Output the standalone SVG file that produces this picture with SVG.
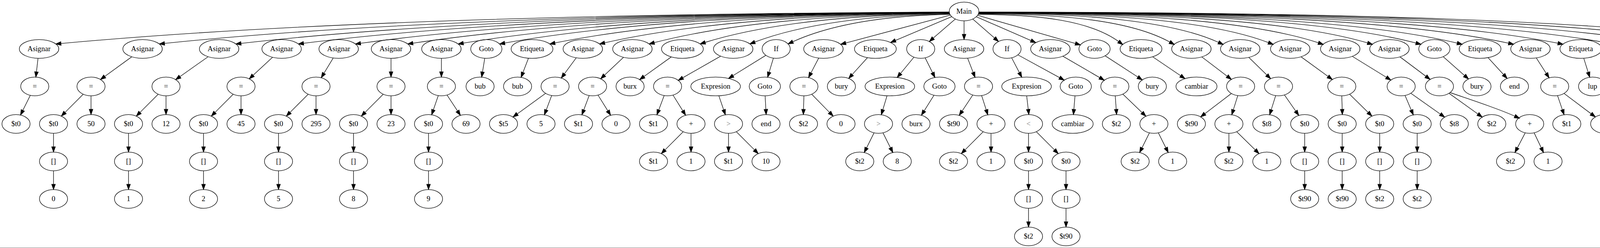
<svg xmlns="http://www.w3.org/2000/svg" width="4739" height="635" viewBox="0 0 4739 635">
<style>
ellipse{fill:none;stroke:#000;stroke-width:1.33}
text{font-family:"Liberation Serif","Times New Roman",serif;font-size:18.67px;text-anchor:middle;fill:#000}
text.op{fill:#808080}
#edges path{fill:none;stroke:#000;stroke-width:1.33;marker-end:url(#ah)}
</style>
<defs>
<marker id="ah" viewBox="0 0 14 10" markerWidth="14" markerHeight="10" refX="0" refY="5" orient="auto" markerUnits="userSpaceOnUse" overflow="visible"><path d="M0,0.33 L13.33,5 L0,9.67 Z" fill="#000" stroke="#000" stroke-width="1.33"/></marker>
</defs>
<rect width="4739" height="635" fill="#fff"/>
<path d="M0,634.5 H4737.5 V0" fill="none" stroke="#808080" stroke-width="1"/>
<g id="edges">
<path d="M2430.1,30.8 C1520.5,34.8 724.6,59.0 156.1,111.4"/>
<path d="M2430.1,31.0 C1626.5,35.0 923.3,59.1 421.1,111.2"/>
<path d="M2430.1,31.2 C1704.9,35.2 1070.3,59.2 617.0,111.1"/>
<path d="M2430.1,31.4 C1768.9,35.4 1190.3,59.2 777.0,110.9"/>
<path d="M2430.2,31.6 C1827.3,35.6 1299.8,59.3 923.0,110.8"/>
<path d="M2430.2,31.8 C1880.9,35.7 1400.3,59.4 1057.0,110.6"/>
<path d="M2430.2,32.0 C1932.5,35.9 1497.0,59.4 1186.0,110.4"/>
<path d="M2430.3,32.3 C1975.0,36.2 1576.6,59.6 1292.0,110.2"/>
<path d="M2430.4,32.6 C2026.4,36.5 1673.0,59.7 1420.5,109.9"/>
<path d="M2430.5,33.0 C2077.4,36.8 1768.5,59.8 1547.8,109.6"/>
<path d="M2430.6,33.5 C2128.2,37.3 1863.7,60.0 1674.7,109.2"/>
<path d="M2430.8,34.2 C2180.5,37.9 1961.5,60.2 1805.1,108.5"/>
<path d="M2431.2,35.3 C2231.6,38.9 2056.9,60.6 1932.2,107.7"/>
<path d="M2431.8,36.5 C2270.9,40.0 2130.1,61.1 2029.5,106.9"/>
<path d="M2433.0,38.6 L2164.9,110.1"/>
<path d="M2436.4,42.7 L2292.2,103.6"/>
<path d="M2445.6,48.7 L2389.1,97.6"/>
<path d="M2468,53.3 L2468,88.0"/>
<path d="M2490.3,48.7 L2546.1,97.5"/>
<path d="M2499.3,42.9 L2639.5,103.8"/>
<path d="M2502.6,39.2 L2753.1,111.3"/>
<path d="M2504.0,36.9 C2665.9,36.9 2791.8,54.3 2863.8,106.4"/>
<path d="M2504.8,35.4 C2725.3,35.4 2896.8,53.5 2994.8,107.7"/>
<path d="M2505.2,34.3 C2781.6,34.3 2996.6,52.9 3119.5,108.5"/>
<path d="M2505.4,33.6 C2839.3,33.6 3098.9,52.5 3247.3,109.1"/>
<path d="M2505.5,33.0 C2896.9,33.0 3201.3,52.2 3375.2,109.6"/>
<path d="M2505.6,32.6 C2953.6,32.6 3302.0,51.9 3501.1,109.9"/>
<path d="M2505.7,32.3 C3009.4,32.3 3401.1,51.8 3625.0,110.2"/>
<path d="M2505.7,32.0 C3056.9,32.0 3485.5,51.6 3730.5,110.4"/>
<path d="M2505.8,31.8 C3116.1,31.8 3590.8,51.5 3862.0,110.6"/>
<path d="M2505.8,31.6 C3173.0,31.6 3691.9,51.4 3988.4,110.7"/>
<path d="M2505.9,31.4 C3232.7,31.4 3797.9,51.3 4120.9,110.9"/>
<path d="M2505.9,31.3 C3293.9,31.3 3906.7,51.2 4256.9,111.0"/>
<path d="M2505.9,31.1 C3355.6,31.1 4016.4,51.1 4394.0,111.1"/>
<path d="M2505.9,31.0 C3413.2,31.0 4119.0,51.1 4522.2,111.2"/>
<path d="M97.3,149.3 L93.3,184.1"/>
<path d="M77.6,244.1 L58.4,282.6"/>
<path d="M337.4,145.4 L268.1,195.8"/>
<path d="M213.0,241.3 L166.4,287.9"/>
<path d="M233,245.3 L233,280.0"/>
<path d="M137,341.3 L137,376.0"/>
<path d="M137,437.3 L137,472.0"/>
<path d="M532.8,145.2 L460.6,196.2"/>
<path d="M405.0,241.3 L358.4,287.9"/>
<path d="M425,245.3 L425,280.0"/>
<path d="M329,341.3 L329,376.0"/>
<path d="M329,437.3 L329,472.0"/>
<path d="M697.9,146.6 L647.9,192.8"/>
<path d="M597.0,241.3 L550.4,287.9"/>
<path d="M617,245.3 L617,280.0"/>
<path d="M521,341.3 L521,376.0"/>
<path d="M521,437.3 L521,472.0"/>
<path d="M853.1,148.4 L829.3,187.6"/>
<path d="M789.0,241.3 L742.4,287.9"/>
<path d="M809,245.3 L809,280.0"/>
<path d="M713,341.3 L713,376.0"/>
<path d="M713,437.3 L713,472.0"/>
<path d="M1001,149.3 L1001,184.0"/>
<path d="M981.0,241.3 L934.4,287.9"/>
<path d="M1001,245.3 L1001,280.0"/>
<path d="M905,341.3 L905,376.0"/>
<path d="M905,437.3 L905,472.0"/>
<path d="M1130,149.3 L1130,184.0"/>
<path d="M1122.0,244.7 L1109.4,281.3"/>
<path d="M1144.4,243.3 L1171.3,284.2"/>
<path d="M1097,341.3 L1097,376.0"/>
<path d="M1097,437.3 L1097,472.0"/>
<path d="M1241.0,149.2 L1235.2,184.3"/>
<path d="M1352.9,149.0 L1338.8,185.6"/>
<path d="M1475.3,147.9 L1444.8,189.1"/>
<path d="M1396.7,239.0 L1324.1,291.8"/>
<path d="M1412.3,244.6 L1398.4,281.5"/>
<path d="M1596.2,146.7 L1547.5,192.6"/>
<path d="M1508.3,244.6 L1494.4,281.5"/>
<path d="M1530.9,243.5 L1556.1,283.8"/>
<path d="M1718.6,145.6 L1648.4,196.0"/>
<path d="M1844.7,143.8 L1747.9,199.1"/>
<path d="M1700.3,244.6 L1686.4,281.5"/>
<path d="M1722.9,243.5 L1748.1,283.8"/>
<path d="M1749.0,337.3 L1702.4,383.9"/>
<path d="M1769,341.3 L1769,376.0"/>
<path d="M1960.6,141.6 L1876.4,193.8"/>
<path d="M1979.9,148.8 L1969.0,184.9"/>
<path d="M1840.2,245.1 L1852.6,281.3"/>
<path d="M1865,341.3 L1865,376.0"/>
<path d="M1885.0,337.3 L1931.6,383.9"/>
<path d="M1958.7,245.3 L1960.6,280.0"/>
<path d="M2095.9,148.6 L2076.0,186.8"/>
<path d="M2058,245.3 L2057,280.0"/>
<path d="M2078.0,241.3 L2123.6,287.9"/>
<path d="M2220.9,147.5 L2181.6,190.9"/>
<path d="M2339.7,146.3 L2305.3,188.1"/>
<path d="M2368.4,148.1 L2387.5,186.4"/>
<path d="M2270.8,245.2 L2260.0,281.0"/>
<path d="M2237.6,340.1 L2218.4,378.6"/>
<path d="M2260.4,340.1 L2279.7,378.6"/>
<path d="M2391.0,243.8 L2365.9,283.8"/>
<path d="M2477.1,148.9 L2491.3,185.6"/>
<path d="M2490.4,243.2 L2463.0,284.3"/>
<path d="M2513.0,244.7 L2524.7,281.3"/>
<path d="M2517.0,337.3 L2470.4,383.9"/>
<path d="M2537,341.3 L2537,376.0"/>
<path d="M2589.8,148.0 L2609.6,185.9"/>
<path d="M2605.9,140.5 L2712.7,198.8"/>
<path d="M2628.3,245.3 L2632.3,280.0"/>
<path d="M2633,341.3 L2633,376.0"/>
<path d="M2653.0,337.3 L2699.6,383.9"/>
<path d="M2633,437.3 L2633,472.0"/>
<path d="M2633,533.3 L2633,568.0"/>
<path d="M2729,437.3 L2729,472.0"/>
<path d="M2729,533.3 L2729,568.0"/>
<path d="M2752.0,245.3 L2749.1,280.1"/>
<path d="M2720.9,143.9 L2815.4,198.8"/>
<path d="M2855,245.3 L2857.5,280.0"/>
<path d="M2874.5,241.0 L2923.9,288.4"/>
<path d="M2942.6,340.1 L2923.4,378.6"/>
<path d="M2965.4,340.1 L2984.7,378.6"/>
<path d="M2829.2,142.9 L2913.0,197.3"/>
<path d="M2950.6,145.3 L3022.6,194.0"/>
<path d="M3076.7,145.7 L3141.7,195.2"/>
<path d="M3152.3,239.4 L3084.3,291.2"/>
<path d="M3168.7,244.8 L3157.3,281.1"/>
<path d="M3146,341.3 L3146,376.0"/>
<path d="M3166.0,337.3 L3213.6,383.9"/>
<path d="M3197.0,146.9 L3243.2,192.1"/>
<path d="M3265.7,244.8 L3254.3,281.1"/>
<path d="M3288.2,243.1 L3317.2,284.6"/>
<path d="M3340,341.3 L3340,376.0"/>
<path d="M3340,437.3 L3340,472.0"/>
<path d="M3330.6,145.4 L3399.9,195.8"/>
<path d="M3435,245.3 L3436,280.0"/>
<path d="M3455.0,241.3 L3502.6,287.9"/>
<path d="M3436,341.3 L3436,376.0"/>
<path d="M3436,437.3 L3436,472.0"/>
<path d="M3532,341.3 L3532,376.0"/>
<path d="M3532,437.3 L3532,472.0"/>
<path d="M3461.9,144.3 L3549.2,198.0"/>
<path d="M3596.9,244.4 L3612.9,282.0"/>
<path d="M3611.7,238.8 L3687.4,292.2"/>
<path d="M3628,341.3 L3628,376.0"/>
<path d="M3628,437.3 L3628,472.0"/>
<path d="M3584.0,145.6 L3650.4,195.4"/>
<path d="M3709.5,238.9 L3783.6,292.0"/>
<path d="M3712,237 C3770,257 3830,276 3878,297.5"/>
<path d="M3904.6,340.1 L3884.4,378.6"/>
<path d="M3927.4,340.1 L3945.7,378.6"/>
<path d="M3694.5,145.1 L3749.3,193.4"/>
<path d="M3809.4,147.5 L3849.2,191.0"/>
<path d="M3932.8,148.2 L3958.5,188.1"/>
<path d="M3987.3,244.8 L3999.7,281.1"/>
<path d="M4003.9,239.2 L4073.4,291.4"/>
<path d="M4054.4,149.1 L4065.7,185.1"/>
<path d="M4187.0,149.2 L4194.3,184.4"/>
<path d="M4202,245.3 L4203,280.0"/>
<path d="M4203,341.3 L4203,376.0"/>
<path d="M4318,149.3 L4318,184.0"/>
<path d="M4448.3,149.3 L4445.7,184.0"/>
<path d="M4425.2,242.2 L4387.5,286.3"/>
<path d="M4446.5,245.1 L4451.6,280.3"/>
<path d="M4437.0,337.3 L4392.4,383.9"/>
<path d="M4457,341.3 L4459,376.0"/>
<path d="M4566,149.3 L4566,184.0"/>
<path d="M4589.8,143.3 L4657.5,194.5"/>
<path d="M4566,245.3 L4566,280.0"/>
<path d="M4565.6,341.3 L4562.5,376.0"/>
<path d="M4585.4,337.5 L4629.4,383.5"/>
<path d="M4693,245.3 L4693,280.0"/>
</g>
<g id="n0"><ellipse cx="2468" cy="29.3" rx="38" ry="24"/><text x="2468" y="35.3">Main</text></g>
<g id="n1"><ellipse cx="100" cy="125.3" rx="50.5" ry="24"/><text x="100" y="131.3">Asignar</text></g>
<g id="n2"><ellipse cx="365" cy="125.3" rx="50.5" ry="24"/><text x="365" y="131.3">Asignar</text></g>
<g id="n3"><ellipse cx="561" cy="125.3" rx="50.5" ry="24"/><text x="561" y="131.3">Asignar</text></g>
<g id="n4"><ellipse cx="721" cy="125.3" rx="50.5" ry="24"/><text x="721" y="131.3">Asignar</text></g>
<g id="n5"><ellipse cx="867" cy="125.3" rx="50.5" ry="24"/><text x="867" y="131.3">Asignar</text></g>
<g id="n6"><ellipse cx="1001" cy="125.3" rx="50.5" ry="24"/><text x="1001" y="131.3">Asignar</text></g>
<g id="n7"><ellipse cx="1130" cy="125.3" rx="50.5" ry="24"/><text x="1130" y="131.3">Asignar</text></g>
<g id="n8"><ellipse cx="1245" cy="125.3" rx="40" ry="24"/><text x="1245" y="131.3">Goto</text></g>
<g id="n9"><ellipse cx="1362" cy="125.3" rx="53.5" ry="24"/><text x="1362" y="131.3">Etiqueta</text></g>
<g id="n10"><ellipse cx="1492" cy="125.3" rx="50.5" ry="24"/><text x="1492" y="131.3">Asignar</text></g>
<g id="n11"><ellipse cx="1619" cy="125.3" rx="50.5" ry="24"/><text x="1619" y="131.3">Asignar</text></g>
<g id="n12"><ellipse cx="1747" cy="125.3" rx="53.5" ry="24"/><text x="1747" y="131.3">Etiqueta</text></g>
<g id="n13"><ellipse cx="1877" cy="125.3" rx="50.5" ry="24"/><text x="1877" y="131.3">Asignar</text></g>
<g id="n14"><ellipse cx="1987" cy="125.3" rx="36" ry="24"/><text x="1987" y="131.3">If</text></g>
<g id="n15"><ellipse cx="2108" cy="125.3" rx="50.5" ry="24"/><text x="2108" y="131.3">Asignar</text></g>
<g id="n16"><ellipse cx="2241" cy="125.3" rx="53.5" ry="24"/><text x="2241" y="131.3">Etiqueta</text></g>
<g id="n17"><ellipse cx="2357" cy="125.3" rx="36" ry="24"/><text x="2357" y="131.3">If</text></g>
<g id="n18"><ellipse cx="2468" cy="125.3" rx="50.5" ry="24"/><text x="2468" y="131.3">Asignar</text></g>
<g id="n19"><ellipse cx="2578" cy="125.3" rx="36" ry="24"/><text x="2578" y="131.3">If</text></g>
<g id="n20"><ellipse cx="2689" cy="125.3" rx="50.5" ry="24"/><text x="2689" y="131.3">Asignar</text></g>
<g id="n21"><ellipse cx="2802" cy="125.3" rx="40" ry="24"/><text x="2802" y="131.3">Goto</text></g>
<g id="n22"><ellipse cx="2921" cy="125.3" rx="53.5" ry="24"/><text x="2921" y="131.3">Etiqueta</text></g>
<g id="n23"><ellipse cx="3050" cy="125.3" rx="50.5" ry="24"/><text x="3050" y="131.3">Asignar</text></g>
<g id="n24"><ellipse cx="3175" cy="125.3" rx="50.5" ry="24"/><text x="3175" y="131.3">Asignar</text></g>
<g id="n25"><ellipse cx="3303" cy="125.3" rx="50.5" ry="24"/><text x="3303" y="131.3">Asignar</text></g>
<g id="n26"><ellipse cx="3431" cy="125.3" rx="50.5" ry="24"/><text x="3431" y="131.3">Asignar</text></g>
<g id="n27"><ellipse cx="3557" cy="125.3" rx="50.5" ry="24"/><text x="3557" y="131.3">Asignar</text></g>
<g id="n28"><ellipse cx="3672" cy="125.3" rx="40" ry="24"/><text x="3672" y="131.3">Goto</text></g>
<g id="n29"><ellipse cx="3789" cy="125.3" rx="53.5" ry="24"/><text x="3789" y="131.3">Etiqueta</text></g>
<g id="n30"><ellipse cx="3918" cy="125.3" rx="50.5" ry="24"/><text x="3918" y="131.3">Asignar</text></g>
<g id="n31"><ellipse cx="4047" cy="125.3" rx="53.5" ry="24"/><text x="4047" y="131.3">Etiqueta</text></g>
<g id="n32"><ellipse cx="4182" cy="125.3" rx="56.5" ry="24"/><text x="4182" y="131.3">Imprimir</text></g>
<g id="n33"><ellipse cx="4318" cy="125.3" rx="56.5" ry="24"/><text x="4318" y="131.3">Imprimir</text></g>
<g id="n34"><ellipse cx="4450" cy="125.3" rx="50.5" ry="24"/><text x="4450" y="131.3">Asignar</text></g>
<g id="n35"><ellipse cx="4566" cy="125.3" rx="36" ry="24"/><text x="4566" y="131.3">If</text></g>
<g id="n36"><ellipse cx="89" cy="221.3" rx="36" ry="24"/><text x="89" y="227.3">=</text></g>
<g id="n37"><ellipse cx="233" cy="221.3" rx="36" ry="24"/><text x="233" y="227.3">=</text></g>
<g id="n38"><ellipse cx="425" cy="221.3" rx="36" ry="24"/><text x="425" y="227.3">=</text></g>
<g id="n39"><ellipse cx="617" cy="221.3" rx="36" ry="24"/><text x="617" y="227.3">=</text></g>
<g id="n40"><ellipse cx="809" cy="221.3" rx="36" ry="24"/><text x="809" y="227.3">=</text></g>
<g id="n41"><ellipse cx="1001" cy="221.3" rx="36" ry="24"/><text x="1001" y="227.3">=</text></g>
<g id="n42"><ellipse cx="1130" cy="221.3" rx="36" ry="24"/><text x="1130" y="227.3">=</text></g>
<g id="n43"><ellipse cx="1229" cy="221.3" rx="36" ry="24"/><text x="1229" y="227.3">bub</text></g>
<g id="n44"><ellipse cx="1325" cy="221.3" rx="36" ry="24"/><text x="1325" y="227.3">bub</text></g>
<g id="n45"><ellipse cx="1421" cy="221.3" rx="36" ry="24"/><text x="1421" y="227.3">=</text></g>
<g id="n46"><ellipse cx="1517" cy="221.3" rx="36" ry="24"/><text x="1517" y="227.3">=</text></g>
<g id="n47"><ellipse cx="1613" cy="221.3" rx="36" ry="24"/><text x="1613" y="227.3">burx</text></g>
<g id="n48"><ellipse cx="1709" cy="221.3" rx="36" ry="24"/><text x="1709" y="227.3">=</text></g>
<g id="n49"><ellipse cx="1832" cy="221.3" rx="63.5" ry="24"/><text x="1832" y="227.3">Expresion</text></g>
<g id="n50"><ellipse cx="1958" cy="221.3" rx="40" ry="24"/><text x="1958" y="227.3">Goto</text></g>
<g id="n51"><ellipse cx="2058" cy="221.3" rx="36" ry="24"/><text x="2058" y="227.3">=</text></g>
<g id="n52"><ellipse cx="2154" cy="221.3" rx="36" ry="24"/><text x="2154" y="227.3">bury</text></g>
<g id="n53"><ellipse cx="2278" cy="221.3" rx="63.5" ry="24"/><text x="2278" y="227.3">Expresion</text></g>
<g id="n54"><ellipse cx="2405" cy="221.3" rx="40" ry="24"/><text x="2405" y="227.3">Goto</text></g>
<g id="n55"><ellipse cx="2505" cy="221.3" rx="36" ry="24"/><text x="2505" y="227.3">=</text></g>
<g id="n56"><ellipse cx="2628" cy="221.3" rx="63.5" ry="24"/><text x="2628" y="227.3">Expresion</text></g>
<g id="n57"><ellipse cx="2754" cy="221.3" rx="40" ry="24"/><text x="2754" y="227.3">Goto</text></g>
<g id="n58"><ellipse cx="2854" cy="221.3" rx="36" ry="24"/><text x="2854" y="227.3">=</text></g>
<g id="n59"><ellipse cx="2950" cy="221.3" rx="36" ry="24"/><text x="2950" y="227.3">bury</text></g>
<g id="n60"><ellipse cx="3063" cy="221.3" rx="52.5" ry="24"/><text x="3063" y="227.3">cambiar</text></g>
<g id="n61"><ellipse cx="3176" cy="221.3" rx="36" ry="24"/><text x="3176" y="227.3">=</text></g>
<g id="n62"><ellipse cx="3273" cy="221.3" rx="36" ry="24"/><text x="3273" y="227.3">=</text></g>
<g id="n63"><ellipse cx="3435" cy="221.3" rx="36" ry="24"/><text x="3435" y="227.3">=</text></g>
<g id="n64"><ellipse cx="3587" cy="221.3" rx="36" ry="24"/><text x="3587" y="227.3">=</text></g>
<g id="n65"><ellipse cx="3685" cy="221.3" rx="36" ry="24"/><text x="3685" y="227.3">=</text></g>
<g id="n66"><ellipse cx="3781" cy="221.3" rx="36" ry="24"/><text x="3781" y="227.3">bury</text></g>
<g id="n67"><ellipse cx="3877" cy="221.3" rx="36" ry="24"/><text x="3877" y="227.3">end</text></g>
<g id="n68"><ellipse cx="3980" cy="221.3" rx="36" ry="24"/><text x="3980" y="227.3">=</text></g>
<g id="n69"><ellipse cx="4077" cy="221.3" rx="36" ry="24"/><text x="4077" y="227.3">lup</text></g>
<g id="n70"><ellipse cx="4202" cy="221.3" rx="36" ry="24"/><text x="4202" y="227.3">$t0</text></g>
<g id="n71"><ellipse cx="4318" cy="221.3" rx="36" ry="24"/></g>
<g id="n72"><ellipse cx="4443" cy="221.3" rx="36" ry="24"/><text x="4443" y="227.3">=</text></g>
<g id="n73"><ellipse cx="4566" cy="221.3" rx="63.5" ry="24"/><text x="4566" y="227.3">Expresion</text></g>
<g id="n74"><ellipse cx="4693" cy="221.3" rx="40" ry="24"/><text x="4693" y="227.3">Goto</text></g>
<g id="n75"><ellipse cx="41" cy="317.3" rx="36" ry="24"/><text x="41" y="323.3">$t0</text></g>
<g id="n76"><ellipse cx="137" cy="317.3" rx="36" ry="24"/><text x="137" y="323.3">$t0</text></g>
<g id="n77"><ellipse cx="233" cy="317.3" rx="36" ry="24"/><text x="233" y="323.3">50</text></g>
<g id="n78"><ellipse cx="329" cy="317.3" rx="36" ry="24"/><text x="329" y="323.3">$t0</text></g>
<g id="n79"><ellipse cx="425" cy="317.3" rx="36" ry="24"/><text x="425" y="323.3">12</text></g>
<g id="n80"><ellipse cx="521" cy="317.3" rx="36" ry="24"/><text x="521" y="323.3">$t0</text></g>
<g id="n81"><ellipse cx="617" cy="317.3" rx="36" ry="24"/><text x="617" y="323.3">45</text></g>
<g id="n82"><ellipse cx="713" cy="317.3" rx="36" ry="24"/><text x="713" y="323.3">$t0</text></g>
<g id="n83"><ellipse cx="809" cy="317.3" rx="36" ry="24"/><text x="809" y="323.3">295</text></g>
<g id="n84"><ellipse cx="905" cy="317.3" rx="36" ry="24"/><text x="905" y="323.3">$t0</text></g>
<g id="n85"><ellipse cx="1001" cy="317.3" rx="36" ry="24"/><text x="1001" y="323.3">23</text></g>
<g id="n86"><ellipse cx="1097" cy="317.3" rx="36" ry="24"/><text x="1097" y="323.3">$t0</text></g>
<g id="n87"><ellipse cx="1193" cy="317.3" rx="36" ry="24"/><text x="1193" y="323.3">69</text></g>
<g id="n88"><ellipse cx="1289" cy="317.3" rx="36" ry="24"/><text x="1289" y="323.3">$t5</text></g>
<g id="n89"><ellipse cx="1385" cy="317.3" rx="36" ry="24"/><text x="1385" y="323.3">5</text></g>
<g id="n90"><ellipse cx="1481" cy="317.3" rx="36" ry="24"/><text x="1481" y="323.3">$t1</text></g>
<g id="n91"><ellipse cx="1577" cy="317.3" rx="36" ry="24"/><text x="1577" y="323.3">0</text></g>
<g id="n92"><ellipse cx="1673" cy="317.3" rx="36" ry="24"/><text x="1673" y="323.3">$t1</text></g>
<g id="n93"><ellipse cx="1769" cy="317.3" rx="36" ry="24"/><text x="1769" y="323.3">+</text></g>
<g id="n94"><ellipse cx="1865" cy="317.3" rx="36" ry="24"/><text class="op" x="1865" y="323.3">&gt;</text></g>
<g id="n95"><ellipse cx="1961" cy="317.3" rx="36" ry="24"/><text x="1961" y="323.3">end</text></g>
<g id="n96"><ellipse cx="2057" cy="317.3" rx="36" ry="24"/><text x="2057" y="323.3">$t2</text></g>
<g id="n97"><ellipse cx="2153" cy="317.3" rx="36" ry="24"/><text x="2153" y="323.3">0</text></g>
<g id="n98"><ellipse cx="2249" cy="317.3" rx="36" ry="24"/><text class="op" x="2249" y="323.3">&gt;</text></g>
<g id="n99"><ellipse cx="2345" cy="317.3" rx="36" ry="24"/><text x="2345" y="323.3">burx</text></g>
<g id="n100"><ellipse cx="2441" cy="317.3" rx="36" ry="24"/><text x="2441" y="323.3">$t90</text></g>
<g id="n101"><ellipse cx="2537" cy="317.3" rx="36" ry="24"/><text x="2537" y="323.3">+</text></g>
<g id="n102"><ellipse cx="2633" cy="317.3" rx="36" ry="24"/><text class="op" x="2633" y="323.3">&lt;</text></g>
<g id="n103"><ellipse cx="2746" cy="317.3" rx="52.5" ry="24"/><text x="2746" y="323.3">cambiar</text></g>
<g id="n104"><ellipse cx="2858" cy="317.3" rx="36" ry="24"/><text x="2858" y="323.3">$t2</text></g>
<g id="n105"><ellipse cx="2954" cy="317.3" rx="36" ry="24"/><text x="2954" y="323.3">+</text></g>
<g id="n106"><ellipse cx="3050" cy="317.3" rx="36" ry="24"/><text x="3050" y="323.3">$t90</text></g>
<g id="n107"><ellipse cx="3146" cy="317.3" rx="36" ry="24"/><text x="3146" y="323.3">+</text></g>
<g id="n108"><ellipse cx="3243" cy="317.3" rx="36" ry="24"/><text x="3243" y="323.3">$t8</text></g>
<g id="n109"><ellipse cx="3340" cy="317.3" rx="36" ry="24"/><text x="3340" y="323.3">$t0</text></g>
<g id="n110"><ellipse cx="3436" cy="317.3" rx="36" ry="24"/><text x="3436" y="323.3">$t0</text></g>
<g id="n111"><ellipse cx="3532" cy="317.3" rx="36" ry="24"/><text x="3532" y="323.3">$t0</text></g>
<g id="n112"><ellipse cx="3628" cy="317.3" rx="36" ry="24"/><text x="3628" y="323.3">$t0</text></g>
<g id="n113"><ellipse cx="3723" cy="317.3" rx="36" ry="24"/><text x="3723" y="323.3">$t8</text></g>
<g id="n114"><ellipse cx="3819" cy="317.3" rx="36" ry="24"/><text x="3819" y="323.3">$t2</text></g>
<g id="n115"><ellipse cx="3916" cy="317.3" rx="36" ry="24"/><text x="3916" y="323.3">+</text></g>
<g id="n116"><ellipse cx="4011" cy="317.3" rx="36" ry="24"/><text x="4011" y="323.3">$t1</text></g>
<g id="n117"><ellipse cx="4108" cy="317.3" rx="36" ry="24"/><text x="4108" y="323.3">0</text></g>
<g id="n118"><ellipse cx="4203" cy="317.3" rx="36" ry="24"/><text x="4203" y="323.3">[]</text></g>
<g id="n119"><ellipse cx="4361" cy="317.3" rx="36" ry="24"/><text x="4361" y="323.3">$t1</text></g>
<g id="n120"><ellipse cx="4457" cy="317.3" rx="36" ry="24"/><text x="4457" y="323.3">+</text></g>
<g id="n121"><ellipse cx="4566" cy="317.3" rx="36" ry="24"/><text class="op" x="4566" y="323.3">&lt;</text></g>
<g id="n122"><ellipse cx="4693" cy="317.3" rx="36" ry="24"/><text x="4693" y="323.3">lup</text></g>
<g id="n123"><ellipse cx="137" cy="413.3" rx="36" ry="24"/><text x="137" y="419.3">[]</text></g>
<g id="n124"><ellipse cx="329" cy="413.3" rx="36" ry="24"/><text x="329" y="419.3">[]</text></g>
<g id="n125"><ellipse cx="521" cy="413.3" rx="36" ry="24"/><text x="521" y="419.3">[]</text></g>
<g id="n126"><ellipse cx="713" cy="413.3" rx="36" ry="24"/><text x="713" y="419.3">[]</text></g>
<g id="n127"><ellipse cx="905" cy="413.3" rx="36" ry="24"/><text x="905" y="419.3">[]</text></g>
<g id="n128"><ellipse cx="1097" cy="413.3" rx="36" ry="24"/><text x="1097" y="419.3">[]</text></g>
<g id="n129"><ellipse cx="1673" cy="413.3" rx="36" ry="24"/><text x="1673" y="419.3">$t1</text></g>
<g id="n130"><ellipse cx="1769" cy="413.3" rx="36" ry="24"/><text x="1769" y="419.3">1</text></g>
<g id="n131"><ellipse cx="1865" cy="413.3" rx="36" ry="24"/><text x="1865" y="419.3">$t1</text></g>
<g id="n132"><ellipse cx="1961" cy="413.3" rx="36" ry="24"/><text x="1961" y="419.3">10</text></g>
<g id="n133"><ellipse cx="2201" cy="413.3" rx="36" ry="24"/><text x="2201" y="419.3">$t2</text></g>
<g id="n134"><ellipse cx="2297" cy="413.3" rx="36" ry="24"/><text x="2297" y="419.3">8</text></g>
<g id="n135"><ellipse cx="2441" cy="413.3" rx="36" ry="24"/><text x="2441" y="419.3">$t2</text></g>
<g id="n136"><ellipse cx="2537" cy="413.3" rx="36" ry="24"/><text x="2537" y="419.3">1</text></g>
<g id="n137"><ellipse cx="2633" cy="413.3" rx="36" ry="24"/><text x="2633" y="419.3">$t0</text></g>
<g id="n138"><ellipse cx="2729" cy="413.3" rx="36" ry="24"/><text x="2729" y="419.3">$t0</text></g>
<g id="n139"><ellipse cx="2906" cy="413.3" rx="36" ry="24"/><text x="2906" y="419.3">$t2</text></g>
<g id="n140"><ellipse cx="3002" cy="413.3" rx="36" ry="24"/><text x="3002" y="419.3">1</text></g>
<g id="n141"><ellipse cx="3146" cy="413.3" rx="36" ry="24"/><text x="3146" y="419.3">$t2</text></g>
<g id="n142"><ellipse cx="3243" cy="413.3" rx="36" ry="24"/><text x="3243" y="419.3">1</text></g>
<g id="n143"><ellipse cx="3340" cy="413.3" rx="36" ry="24"/><text x="3340" y="419.3">[]</text></g>
<g id="n144"><ellipse cx="3436" cy="413.3" rx="36" ry="24"/><text x="3436" y="419.3">[]</text></g>
<g id="n145"><ellipse cx="3532" cy="413.3" rx="36" ry="24"/><text x="3532" y="419.3">[]</text></g>
<g id="n146"><ellipse cx="3628" cy="413.3" rx="36" ry="24"/><text x="3628" y="419.3">[]</text></g>
<g id="n147"><ellipse cx="3867" cy="413.3" rx="36" ry="24"/><text x="3867" y="419.3">$t2</text></g>
<g id="n148"><ellipse cx="3963" cy="413.3" rx="36" ry="24"/><text x="3963" y="419.3">1</text></g>
<g id="n149"><ellipse cx="4203" cy="413.3" rx="36" ry="24"/><text x="4203" y="419.3">$t1</text></g>
<g id="n150"><ellipse cx="4363" cy="413.3" rx="36" ry="24"/><text x="4363" y="419.3">$t1</text></g>
<g id="n151"><ellipse cx="4459" cy="413.3" rx="36" ry="24"/><text x="4459" y="419.3">1</text></g>
<g id="n152"><ellipse cx="4562" cy="413.3" rx="36" ry="24"/><text x="4562" y="419.3">$t1</text></g>
<g id="n153"><ellipse cx="4658" cy="413.3" rx="36" ry="24"/><text x="4658" y="419.3">10</text></g>
<g id="n154"><ellipse cx="137" cy="509.3" rx="36" ry="24"/><text x="137" y="515.3">0</text></g>
<g id="n155"><ellipse cx="329" cy="509.3" rx="36" ry="24"/><text x="329" y="515.3">1</text></g>
<g id="n156"><ellipse cx="521" cy="509.3" rx="36" ry="24"/><text x="521" y="515.3">2</text></g>
<g id="n157"><ellipse cx="713" cy="509.3" rx="36" ry="24"/><text x="713" y="515.3">5</text></g>
<g id="n158"><ellipse cx="905" cy="509.3" rx="36" ry="24"/><text x="905" y="515.3">8</text></g>
<g id="n159"><ellipse cx="1097" cy="509.3" rx="36" ry="24"/><text x="1097" y="515.3">9</text></g>
<g id="n160"><ellipse cx="2633" cy="509.3" rx="36" ry="24"/><text x="2633" y="515.3">[]</text></g>
<g id="n161"><ellipse cx="2729" cy="509.3" rx="36" ry="24"/><text x="2729" y="515.3">[]</text></g>
<g id="n162"><ellipse cx="3340" cy="509.3" rx="36" ry="24"/><text x="3340" y="515.3">$t90</text></g>
<g id="n163"><ellipse cx="3436" cy="509.3" rx="36" ry="24"/><text x="3436" y="515.3">$t90</text></g>
<g id="n164"><ellipse cx="3532" cy="509.3" rx="36" ry="24"/><text x="3532" y="515.3">$t2</text></g>
<g id="n165"><ellipse cx="3628" cy="509.3" rx="36" ry="24"/><text x="3628" y="515.3">$t2</text></g>
<g id="n166"><ellipse cx="2633" cy="605.3" rx="36" ry="24"/><text x="2633" y="611.3">$t2</text></g>
<g id="n167"><ellipse cx="2729" cy="605.3" rx="36" ry="24"/><text x="2729" y="611.3">$t90</text></g>
</svg>
